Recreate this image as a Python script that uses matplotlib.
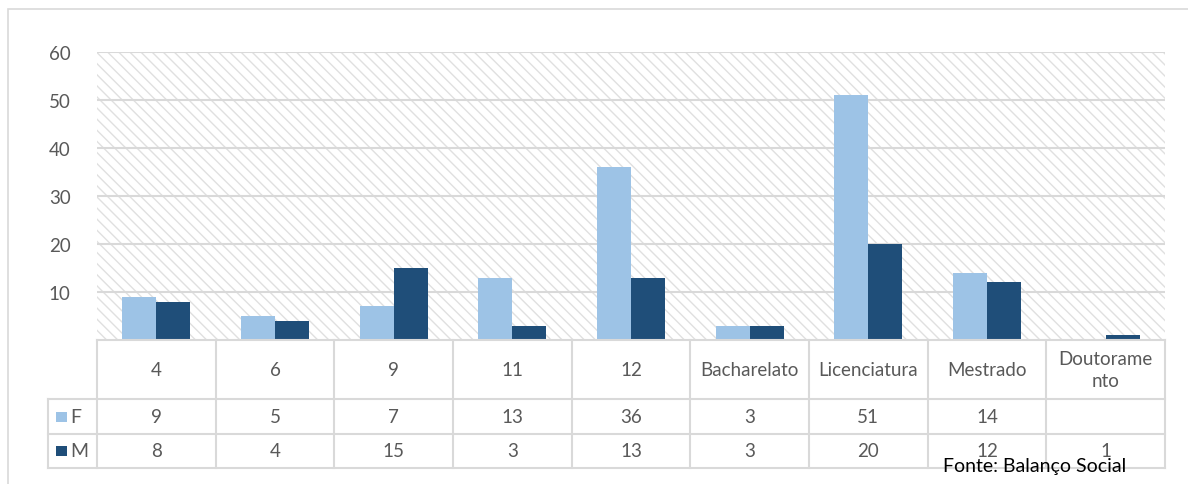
import matplotlib.pyplot as plt
from matplotlib.patches import Rectangle

plt.rcParams["font.family"] = ["Lato", "DejaVu Sans"]
plt.rcParams["hatch.linewidth"] = 1.0
plt.rcParams["hatch.color"] = "#E0E0E0"

categories = ["4", "6", "9", "11", "12", "Bacharelato", "Licenciatura", "Mestrado", "Doutorame\nnto"]
series_names = ["F", "M"]
values_f = [9, 5, 7, 13, 36, 3, 51, 14, None]
values_m = [8, 4, 15, 3, 13, 3, 20, 12, 1]
y_ticks = [10, 20, 30, 40, 50, 60]
source_text = "Fonte: Balanço Social"

COLOR_F = "#9DC3E6"
COLOR_M = "#1F4E79"
GRID = "#D9D9D9"
TEXT = "#595959"

W, H = 1188, 485
fig = plt.figure(figsize=(W / 100, H / 100), dpi=100)


def px_box(x0, y0, x1, y1):
    return [x0 / W, 1 - y1 / H, (x1 - x0) / W, (y1 - y0) / H]


# outer chart border
fig.add_artist(Rectangle((8 / W, -0.1), 1.2, 1 - 10 / H + 0.1, transform=fig.transFigure,
                         fill=False, edgecolor=GRID, linewidth=1.2))

ax = fig.add_axes(px_box(97, 53, 1165, 341))
n = len(categories)
xs = list(range(n))
bw = 0.286

ax.add_patch(Rectangle((-0.5, 0), n, 60, facecolor="white", edgecolor="#E0E0E0",
                       hatch="\\\\\\", linewidth=0, zorder=0))
for y in y_ticks:
    ax.axhline(y, color=GRID, linewidth=1.5, zorder=1)

f_vals = [v if v is not None else 0 for v in values_f]
ax.bar([x - bw / 2 for x in xs], f_vals, bw, color=COLOR_F, zorder=2)
ax.bar([x + bw / 2 for x in xs], values_m, bw, color=COLOR_M, zorder=2)

ax.set_xlim(-0.5, n - 0.5)
ax.set_ylim(0, 60)
ax.set_xticks([])
ax.set_yticks(y_ticks)
ax.tick_params(axis="y", length=0, pad=19, labelsize=13.5, labelcolor=TEXT)
for s in ax.spines.values():
    s.set_visible(False)

# data table below the plot, sharing the category scale
tb = fig.add_axes(px_box(97, 341, 1165, 469))
tb.set_xlim(-0.5, n - 0.5)
tb.set_ylim(128, 0)
tb.axis("off")
row_lines = [0, 59, 94, 128]
legend_left = -0.5 - 49 / 118.7
lc = dict(color=GRID, linewidth=1.5, clip_on=False)
tb.plot([-0.5, n - 0.5], [0, 0], **lc)
for y in row_lines[1:]:
    tb.plot([legend_left, n - 0.5], [y, y], **lc)
for i in range(n + 1):
    tb.plot([i - 0.5, i - 0.5], [0, 128], **lc)
tb.plot([legend_left, legend_left], [59, 128], **lc)

tk = dict(ha="center", va="center", fontsize=13.5, color=TEXT)
for i, c in enumerate(categories):
    tb.text(i, 29.5, c, linespacing=1.3, **tk)
for row, (name, vals, col) in enumerate([(series_names[0], values_f, COLOR_F),
                                         (series_names[1], values_m, COLOR_M)]):
    yc = (row_lines[row + 1] + row_lines[row + 2]) / 2
    for i, v in enumerate(vals):
        if v is not None:
            tb.text(i, yc, str(v), **tk)
    tb.add_patch(Rectangle((legend_left + 0.07, yc - 5), 0.09, 10, facecolor=col,
                           edgecolor="none", clip_on=False))
    tb.text(legend_left + 0.19, yc, name, ha="left", va="center", fontsize=14,
            color=TEXT, clip_on=False)

fig.text(943 / W, 1 - 467 / H, source_text, ha="left", va="center", fontsize=14, color="black")

fig.savefig("out.png", dpi=100)
